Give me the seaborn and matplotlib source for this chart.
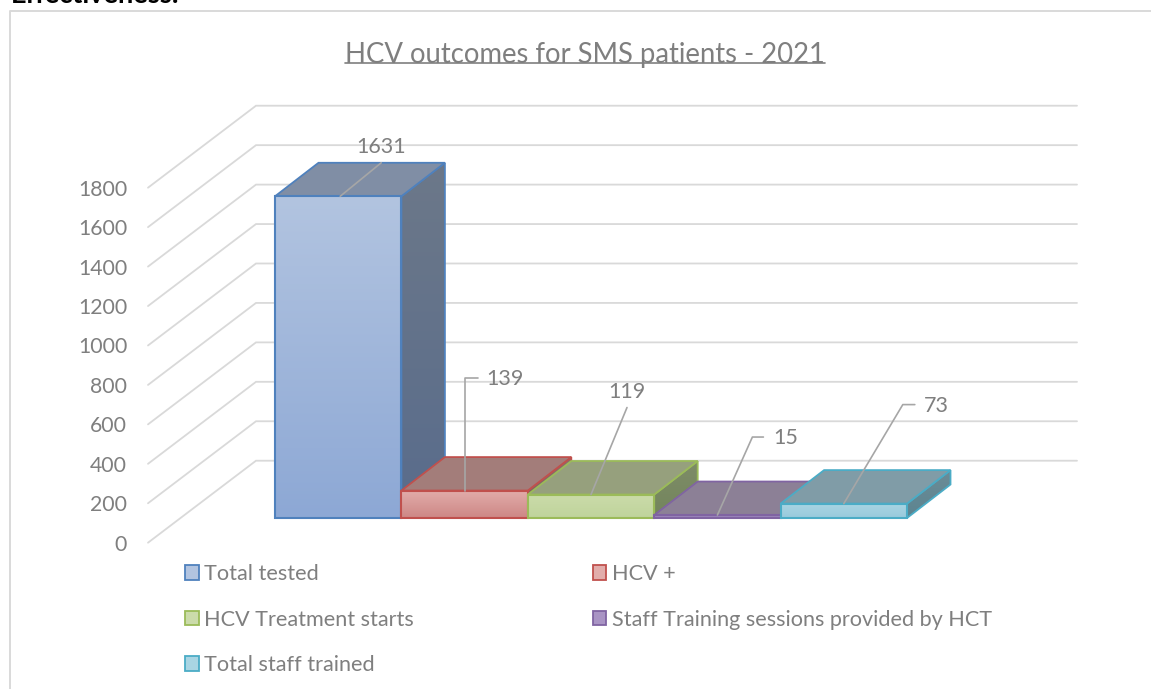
"""
HCV outcomes for SMS patients - 2021, pseudo 3D column chart.
Front faces come from seaborn, depth faces are built from the bar geometry.
"""

import numpy as np
import pandas as pd
import matplotlib
matplotlib.use("Agg")
import matplotlib.pyplot as plt
import seaborn as sns
from matplotlib.lines import Line2D
from matplotlib.patches import Patch, Polygon

categories = [
    "Total tested",
    "HCV +",
    "HCV Treatment starts",
    "Staff Training sessions provided by HCT",
    "Total staff trained",
]
values = [1631, 139, 119, 15, 73]
y_ticks = [0, 200, 400, 600, 800, 1000, 1200, 1400, 1600, 1800]
title = "HCV outcomes for SMS patients - 2021"

edge_colors = ["#4F81BD", "#C0504D", "#9BBB59", "#8064A2", "#4BACC6"]
front_top = ["#B2C4E0", "#E2ADAB", "#CBDBAA", "#A994C4", "#A9D5E3"]
front_bottom = ["#8DA8D5", "#CD8785", "#BFD49B", "#8F78B4", "#98CADC"]
side_top = ["#6C7889", "#8F6E6C", "#7E8C68", "#75688A", "#6C8C97"]
side_bottom = ["#596C8C", "#7F5A58", "#73855C", "#66587E", "#5C8490"]
top_colors = ["#808EA5", "#A37D7A", "#96A07D", "#8C8096", "#809CA7"]

GREY = "#7F7F7F"
GRID = "#D9D9D9"
LEADER = "#A6A6A6"
W, H = 1151, 689

# pixels per unit on the value axis, and the depth of walls and bars
PX_PER_UNIT = 39.45 / 200
WALL_DX, WALL_DY = 108, 82
BAR_DX, BAR_DY = 43.5, 33.5


def px_rect(left, top, right, bottom):
    return [left / W, 1 - bottom / H, (right - left) / W, (bottom - top) / H]


def gradient_fill(ax, patch, color_top, color_bottom, x0, x1, y0, y1, zorder):
    c0 = np.array(matplotlib.colors.to_rgb(color_top))
    c1 = np.array(matplotlib.colors.to_rgb(color_bottom))
    ramp = np.linspace(c0, c1, 128)[:, None, :]
    im = ax.imshow(ramp, extent=(x0, x1, y0, y1), origin="upper", aspect="auto",
                   interpolation="bilinear", zorder=zorder)
    im.set_clip_box(ax.figure.bbox)
    im.set_clip_path(patch)


sns.set_theme(style="white")
plt.rcParams["font.family"] = ["Lato", "DejaVu Sans"]

fig = plt.figure(figsize=(W / 100, H / 100), dpi=100, facecolor="white")

# chart frame, cut off by the screenshot on the right and at the bottom
fig.add_artist(Line2D([10 / W, 10 / W, 1], [0, 1 - 11 / H, 1 - 11 / H],
                      transform=fig.transFigure, color=GRID, lw=1.4))
fig.text(11 / W, 1 - 3 / H, "Effectiveness:", fontsize=19.5, fontweight="bold",
         color="black", ha="left", va="baseline")

# walls: value axis on the front edge, gridlines run along the side and back
ax_wall = fig.add_axes(px_rect(148, 187.7, 1077, 542.7))
ax_wall.set_xlim(0, 1077 - 148)
ax_wall.set_ylim(min(y_ticks), max(y_ticks))
sns.despine(ax=ax_wall, left=True, bottom=True)
ax_wall.set_xticks([])
ax_wall.set_yticks(y_ticks)
ax_wall.tick_params(axis="y", length=0, pad=15, labelsize=15.3, labelcolor=GREY)
wall_rise = WALL_DY / PX_PER_UNIT
for tick in y_ticks:
    ax_wall.plot([0, WALL_DX, 1077 - 148], [tick, tick + wall_rise, tick + wall_rise],
                 color=GRID, lw=1.3, clip_on=False, solid_joinstyle="miter")

# bars: one axes spanning exactly the five columns, zero on the bar floor
ax = fig.add_axes(px_rect(275, 518 - max(y_ticks) * PX_PER_UNIT, 907, 518))
ax.patch.set_alpha(0)
df = pd.DataFrame({"category": categories, "value": values})
sns.barplot(data=df, x="category", y="value", hue="category", hue_order=categories,
            palette=front_top, width=1, saturation=1, legend=False, ax=ax)
ax.set_xlim(-0.5, len(categories) - 0.5)
ax.set_ylim(min(y_ticks), max(y_ticks))
ax.axis("off")

px_per_cat = 632 / len(categories)
depth_x = BAR_DX / px_per_cat
depth_y = BAR_DY / PX_PER_UNIT
bars = [p for p in ax.patches if p.get_height() > 0]
for i, bar in enumerate(bars):
    x0, x1 = bar.get_x(), bar.get_x() + bar.get_width()
    v = bar.get_height()
    base = 10 + 4 * i
    edge = edge_colors[i]

    side = Polygon([(x1, 0), (x1 + depth_x, depth_y), (x1 + depth_x, v + depth_y), (x1, v)],
                   closed=True, facecolor="none", edgecolor=edge, lw=1.3,
                   zorder=base + 1, clip_on=False, joinstyle="miter")
    ax.add_patch(side)
    gradient_fill(ax, side, side_top[i], side_bottom[i], x1, x1 + depth_x, 0, v + depth_y, base)

    top = Polygon([(x0, v), (x0 + depth_x, v + depth_y), (x1 + depth_x, v + depth_y), (x1, v)],
                  closed=True, facecolor=top_colors[i], edgecolor=edge, lw=1.3,
                  zorder=base + 2, clip_on=False, joinstyle="miter")
    ax.add_patch(top)

    bar.set_facecolor("none")
    bar.set_edgecolor(edge)
    bar.set_linewidth(1.5)
    bar.set_clip_on(False)
    bar.set_zorder(base + 3.5)
    gradient_fill(ax, bar, front_top[i], front_bottom[i], x0, x1, 0, v, base + 3)

ax.set_xlim(-0.5, len(categories) - 0.5)
ax.set_ylim(min(y_ticks), max(y_ticks))

# value labels with leader lines, offsets in pixels from the top of each bar
leader_paths = [
    [(2, 0), (43, 33.5)],
    [(0, 0), (0, 113), (13, 113)],
    [(0, 0), (36, 87)],
    [(0, 0), (35, 78), (46, 78)],
    [(0, 0), (59, 99), (71, 99)],
]
label_offsets = [(43, 49), (22, 112), (36, 103), (56, 77), (80, 98)]
label_align = ["center", "left", "center", "left", "left"]
for i, bar in enumerate(bars):
    xc = bar.get_x() + bar.get_width() / 2
    v = bar.get_height()
    xs = [xc + p[0] / px_per_cat for p in leader_paths[i]]
    ys = [v + p[1] / PX_PER_UNIT for p in leader_paths[i]]
    ax.plot(xs, ys, color=LEADER, lw=1.2, zorder=50, clip_on=False)
    ax.annotate(str(values[i]), xy=(xc, v), xycoords="data",
                xytext=label_offsets[i], textcoords="offset pixels",
                ha=label_align[i], va="center", fontsize=15.5, color=GREY, zorder=51,
                annotation_clip=False)

# title with a drawn underline
title_text = fig.text(585 / W, 1 - 55.5 / H, title, fontsize=19.8, color=GREY,
                      ha="center", va="center")
fig.canvas.draw()
box = title_text.get_window_extent()
fig.add_artist(Line2D([box.x0 / W, box.x1 / W], [1 - 62.5 / H, 1 - 62.5 / H],
                      transform=fig.transFigure, color=GREY, lw=1.2))

# legend fills row by row in the reference, so hand matplotlib the columns
order = [0, 2, 4, 1, 3]
handles = [Patch(facecolor=front_top[i], edgecolor=edge_colors[i], lw=1.3,
                 label=categories[i]) for i in order]
fig.legend(handles=handles, ncol=2, loc="upper left", frameon=False,
           bbox_to_anchor=(185 / W, 1 - 564 / H), bbox_transform=fig.transFigure,
           fontsize=15.6, labelcolor=GREY, borderpad=0, borderaxespad=0,
           handlelength=0.64, handleheight=0.64, handletextpad=0.24,
           labelspacing=1.18, columnspacing=8.25)

fig.savefig("out.png", dpi=100)
